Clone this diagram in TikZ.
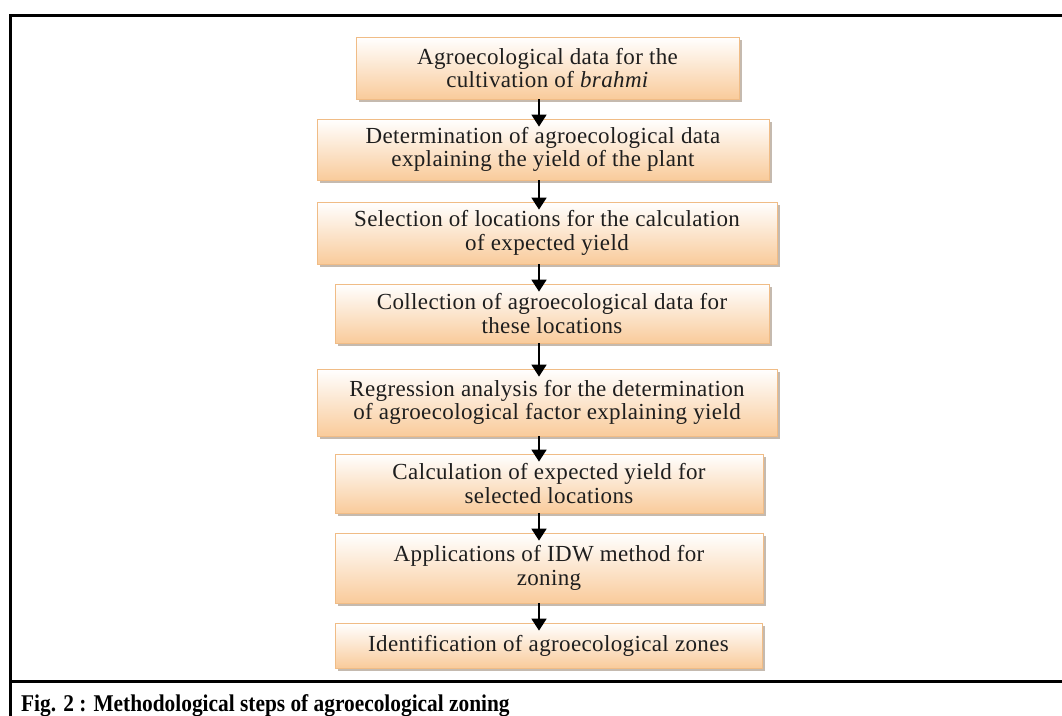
\documentclass[tikz,border=0pt]{standalone}
\usepackage{fontspec}
\setmainfont{Liberation Serif}
\newfontfamily\boxfont[LetterSpace=1.6]{Liberation Serif}
\usetikzlibrary{arrows.meta,shadows}
\definecolor{peach}{HTML}{F9CB9B}
\definecolor{peachline}{HTML}{F0BC86}
\definecolor{shadowc}{HTML}{BFB2A6}
\definecolor{txt}{HTML}{1E1E1E}
\tikzset{
  stepbox/.style={rectangle, draw=peachline, line width=0.8pt,
    top color=white, bottom color=peach, inner sep=0pt,
    align=center, text=txt,
    font=\boxfont\fontsize{23}{23.5}\selectfont,
    drop shadow={shadow xshift=3pt, shadow yshift=-3pt, fill=shadowc, opacity=0.9}},
  arr/.style={line width=1.8pt, -{Triangle[width=15pt,length=12pt]}, shorten >=-8pt},
  frame/.style={line width=3pt, line cap=rect}
}
\begin{document}
\begin{tikzpicture}[x=1pt,y=-1pt]
\useasboundingbox (0,0) rectangle (1062,715);
% frame
\coordinate (ftl) at (10,15);
\coordinate (ftr) at (1062,15);
\coordinate (fbl) at (10,715);
\coordinate (fcl) at (10,681);
\coordinate (fcr) at (1062,681);
\draw[frame] (ftr) -- (ftl) -- (fbl);
\draw[frame] (fcl) -- (fcr);
% boxes
\node[stepbox, minimum width=383pt, minimum height=62pt] (b1) at (547.5,68)
  {Agroecological data for the\\cultivation of \textit{brahmi}};
\node[stepbox, minimum width=452pt, minimum height=61pt] (b2) at (543,149.5)
  {Determination of agroecological data\\explaining the yield of the plant};
\node[stepbox, minimum width=460pt, minimum height=62pt] (b3) at (547,233)
  {Selection of locations for the calculation\\of expected yield};
\node[stepbox, minimum width=434pt, minimum height=59pt] (b4) at (552,313.5)
  {Collection of agroecological data for\\these locations};
\node[stepbox, minimum width=460pt, minimum height=67pt] (b5) at (547,402.5)
  {Regression analysis for the determination\\of agroecological factor explaining yield};
\node[stepbox, minimum width=428pt, minimum height=59pt] (b6) at (549,483.5)
  {Calculation of expected yield for\\selected locations};
\node[stepbox, minimum width=428pt, minimum height=70pt] (b7) at (549,568)
  {Applications of IDW method for\\zoning};
\node[stepbox, minimum width=427pt, minimum height=45pt] (b8) at (548.5,645.5)
  {Identification of agroecological zones};
% arrows
\coordinate (ax) at (539,0);
\draw[arr] (b1.south -| ax) -- (b2.north -| ax);
\draw[arr] (b2.south -| ax) -- (b3.north -| ax);
\draw[arr] (b3.south -| ax) -- (b4.north -| ax);
\draw[arr] (b4.south -| ax) -- (b5.north -| ax);
\draw[arr] (b5.south -| ax) -- (b6.north -| ax);
\draw[arr] (b6.south -| ax) -- (b7.north -| ax);
\draw[arr] (b7.south -| ax) -- (b8.north -| ax);
% caption
\node[anchor=base west, inner sep=0pt, font=\bfseries\fontsize{24}{26}\selectfont, xscale=0.89] (cap) at (21,711)
  {Fig. 2 : Methodological steps of agroecological zoning};
\end{tikzpicture}
\end{document}
